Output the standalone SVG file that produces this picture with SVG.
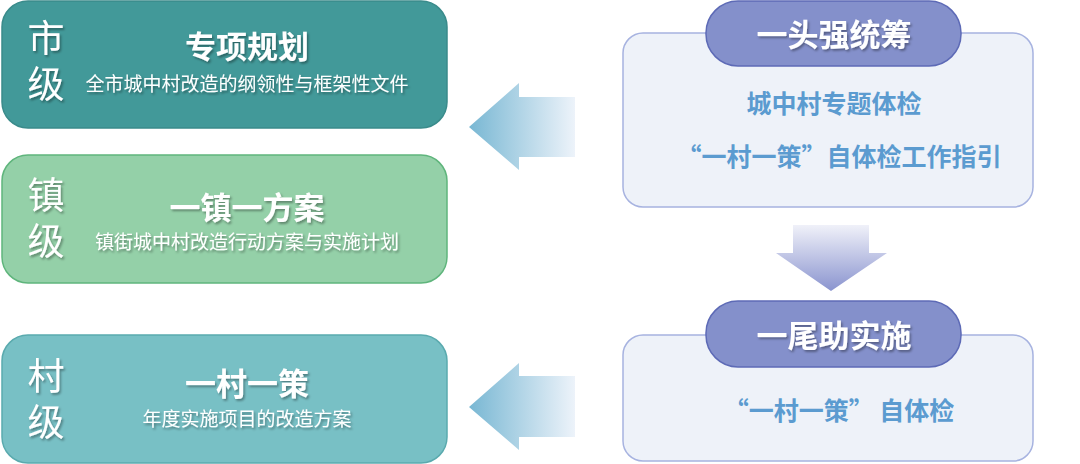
<svg xmlns="http://www.w3.org/2000/svg" width="1080" height="464" viewBox="0 0 1080 464">
<defs>
  <filter id="sh" x="-20%" y="-10%" width="150%" height="130%">
    <feDropShadow dx="1.5" dy="2" stdDeviation="1" flood-color="#000" flood-opacity="0.35"/>
  </filter>
  <linearGradient id="gl" x1="0" y1="0" x2="1" y2="0">
    <stop offset="0" stop-color="#78b7d3"/>
    <stop offset="1" stop-color="#edf3fa"/>
  </linearGradient>
  <linearGradient id="gd" x1="0" y1="0" x2="0" y2="1">
    <stop offset="0" stop-color="#f0f1f9"/>
    <stop offset="1" stop-color="#8a94cf"/>
  </linearGradient>
</defs>
<style>
  text { font-family: "Noto Sans CJK SC", "Noto Sans", sans-serif; }
  .lv { fill: #fff; font-size: 37px; font-weight: 400; writing-mode: vertical-rl; letter-spacing: 9px; filter: url(#sh); }
  .tt { fill: #fff; font-size: 31px; font-weight: 700; text-anchor: middle; filter: url(#sh); }
  .st { fill: #fff; font-size: 19px; font-weight: 400; text-anchor: middle; filter: url(#sh); }
  .panel { fill: #eef2f9; stroke: #a7b3e0; stroke-width: 1.5; }
  .pill { fill: #8490cb; stroke: #5d6ab6; stroke-width: 1.5; }
  .pt { fill: #fff; font-size: 31px; font-weight: 700; text-anchor: middle; filter: url(#sh); }
  .bt { fill: #5b9bd0; font-size: 25px; font-weight: 700; text-anchor: middle; }
</style>

<g id="city">
  <rect x="2" y="1" width="445" height="127" rx="26" fill="#429999" stroke="#3a8b8b" stroke-width="1.5"/>
  <text class="lv" x="46" y="19">市级</text>
  <text class="tt" x="247" y="58">专项规划</text>
  <text class="st" x="247" y="91">全市城中村改造的纲领性与框架性文件</text>
</g>

<g id="town">
  <rect x="2" y="155" width="445" height="128" rx="26" fill="#94d0a8" stroke="#5fb57c" stroke-width="1.5"/>
  <text class="lv" x="46" y="176">镇级</text>
  <text class="tt" x="247" y="219">一镇一方案</text>
  <text class="st" x="247" y="249">镇街城中村改造行动方案与实施计划</text>
</g>

<g id="village">
  <rect x="2" y="335" width="445" height="128" rx="26" fill="#78c0c5" stroke="#5aaaae" stroke-width="1.5"/>
  <text class="lv" x="46" y="357">村级</text>
  <text class="tt" x="247" y="395">一村一策</text>
  <text class="st" x="247" y="426">年度实施项目的改造方案</text>
</g>

<g id="top-panel">
  <rect class="panel" x="623" y="33" width="410" height="174" rx="20"/>
  <rect class="pill" x="706" y="1" width="255" height="65" rx="32"/>
  <text class="pt" x="834" y="46">一头强统筹</text>
  <text class="bt" x="834" y="113">城中村专题体检</text>
  <text class="bt" x="839" y="166">“一村一策”自体检工作指引</text>
</g>

<g id="bottom-panel">
  <rect class="panel" x="623" y="335" width="410" height="126" rx="20"/>
  <rect class="pill" x="706" y="301" width="255" height="66" rx="32"/>
  <text class="pt" x="834" y="347">一尾助实施</text>
  <text class="bt" x="839" y="420">“一村一策” 自体检</text>
</g>

<g id="connectors">
  <polygon points="469,127 519,83 519,97 575,97 575,157 519,157 519,170" fill="url(#gl)"/>
  <polygon points="469,407 519,363 519,376 575,376 575,437 519,437 519,450" fill="url(#gl)"/>
  <polygon points="793,225 869,225 869,253 887,253 831,291 776,253 793,253" fill="url(#gd)"/>
</g>
</svg>
